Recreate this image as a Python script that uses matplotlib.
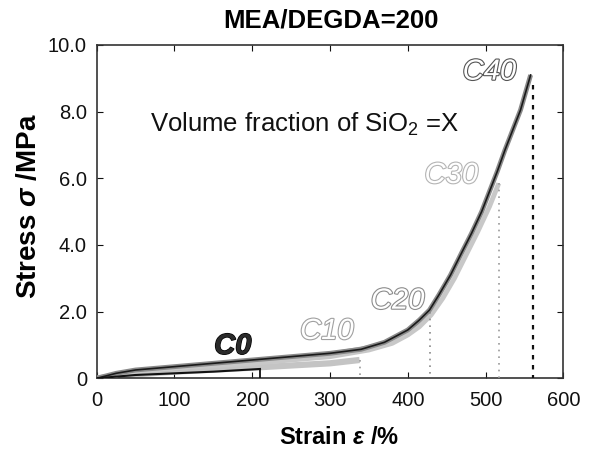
import matplotlib
matplotlib.use("Agg")
import matplotlib.pyplot as plt
import matplotlib.patheffects as pe

plt.rcParams['font.family'] = ['Liberation Sans', 'DejaVu Sans']
plt.rcParams['mathtext.fontset'] = 'custom'
plt.rcParams['mathtext.rm'] = 'Liberation Sans'
plt.rcParams['mathtext.it'] = 'Liberation Sans:italic:bold'
plt.rcParams['mathtext.bf'] = 'Liberation Sans:bold'

# ---- data ----
c40_strain = [0, 25, 50, 100, 150, 200, 250, 300, 340, 370, 400, 415, 428, 440, 455, 470,
              482, 495, 505, 515, 525, 535, 545, 558]
c40_stress = [0, 0.15, 0.25, 0.35, 0.45, 0.55, 0.65, 0.75, 0.87, 1.08, 1.45, 1.75, 2.05, 2.5,
              3.1, 3.8, 4.35, 5.0, 5.6, 6.2, 6.85, 7.45, 8.05, 9.1]

c30_strain = [0, 50, 100, 200, 300, 350, 380, 400, 415, 430, 445, 460, 475, 490, 505, 517]
c30_stress = [0, 0.2, 0.3, 0.45, 0.65, 0.85, 1.05, 1.3, 1.55, 1.9, 2.4, 3.0, 3.7, 4.4, 5.15, 5.85]

c20_strain = [0, 50, 100, 200, 300, 350, 380, 400, 415, 428]
c20_stress = [0, 0.2, 0.3, 0.5, 0.72, 0.92, 1.12, 1.4, 1.68, 2.0]

c10_strain = [0, 50, 100, 200, 300, 338]
c10_stress = [0, 0.12, 0.2, 0.32, 0.45, 0.55]

c0_strain = [0, 50, 100, 150, 210]
c0_stress = [0, 0.1, 0.15, 0.2, 0.28]

# break (failure) points: strain, stress at break
break_strain = [210, 338, 428, 517, 561]
break_stress = [0.28, 0.55, 2.0, 5.85, 8.8]

labels = ["C0", "C10", "C20", "C30", "C40"]
label_x = [175, 296, 387, 456, 505]
label_y = [0.97, 1.42, 2.33, 6.1, 9.2]

xticks = [0, 100, 200, 300, 400, 500, 600]
yticks = [0, 2, 4, 6, 8, 10]
ytick_labels = ["0", "2.0", "4.0", "6.0", "8.0", "10.0"]

# ---- figure ----
fig = plt.figure(figsize=(5.94, 4.5), dpi=100)
ax = fig.add_axes([0.1628, 0.1593, 0.7855, 0.7407])

ax.plot(c10_strain, c10_stress, color='#c4c4c4', lw=4.5, solid_capstyle='butt', zorder=2)
ax.plot(c20_strain, c20_stress, color='#a8a8a8', lw=3.5, solid_capstyle='butt', zorder=3)
ax.plot(c30_strain, c30_stress, color='#c8c8c8', lw=3.5, solid_capstyle='butt', zorder=3)
ax.plot(c40_strain, c40_stress, color='#8a8a8a', lw=3.5, solid_capstyle='butt', zorder=4)
ax.plot(c40_strain, c40_stress, color='#1a1a1a', lw=1.2, zorder=5)
ax.plot(c0_strain, c0_stress, color='#111111', lw=1.5, zorder=6)

drop_styles = [
    dict(color='#111111', ls='-', lw=1.3),
    dict(color='#9a9a9a', ls=(0, (1, 3)), lw=1.2),
    dict(color='#8a8a8a', ls=(0, (1, 3)), lw=1.2),
    dict(color='#9a9a9a', ls=(0, (1, 3)), lw=1.2),
    dict(color='#111111', ls=(0, (2, 2.5)), lw=1.6),
]
for xs, ys, st in zip(break_strain, break_stress, drop_styles):
    ax.plot([xs, xs], [ys, 0], zorder=3, **st)

label_colors = ['#111111', '#a0a0a0', '#8c8c8c', '#b4b4b4', '#555555']
for i, (t, x, y, c) in enumerate(zip(labels, label_x, label_y, label_colors)):
    if i == 0:
        ax.text(x, y, t, fontsize=21, fontweight='bold', fontstyle='italic',
                color='#2a2a2a', ha='center', va='center', zorder=7,
                path_effects=[pe.Stroke(linewidth=1.0, foreground='#000000'), pe.Normal()])
    else:
        ax.text(x, y, t, fontsize=21, fontstyle='italic', color='white',
                ha='center', va='center', zorder=7,
                path_effects=[pe.Stroke(linewidth=1.6, foreground=c), pe.Normal()])

ax.text(268, 7.4, r"Volume fraction of SiO$_2$ =X", fontsize=18.5, color='#111111',
        ha='center', va='baseline')

ax.set_xlim(0, 600)
ax.set_ylim(0, 10)
ax.set_xticks(xticks)
ax.set_xticklabels([str(v) for v in xticks])
ax.set_yticks(yticks)
ax.set_yticklabels(ytick_labels)
ax.tick_params(direction='in', top=True, right=True, length=4, width=0.8,
               labelsize=14.5, colors='#111111')
ax.tick_params(axis='x', pad=9)
ax.tick_params(axis='y', pad=7)
for s in ax.spines.values():
    s.set_linewidth(1.2)
    s.set_color('#333333')

ax.set_xlabel(r"Strain $\varepsilon$ /%", fontsize=17, fontweight='bold')
ax.set_ylabel(r"Stress $\sigma$ /MPa", fontsize=20, fontweight='bold')
ax.xaxis.set_label_coords(0.52, -0.143)
ax.yaxis.set_label_coords(-0.118, 0.517)

ax.text(0.503, 1.053, "MEA/DEGDA=200", transform=ax.transAxes, fontsize=18.5,
        fontweight='bold', ha='center', va='baseline')

fig.savefig("out.png", dpi=100)
